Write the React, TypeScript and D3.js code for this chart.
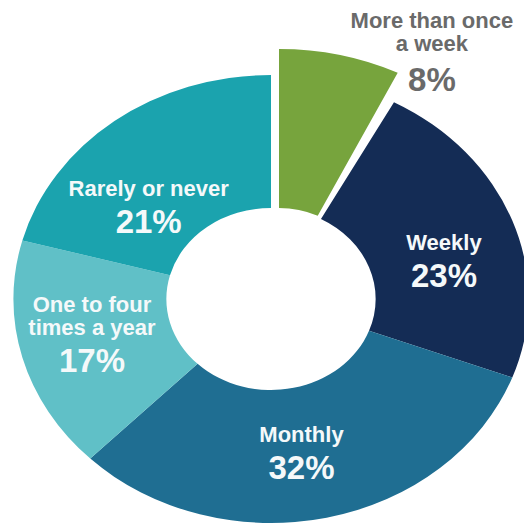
import React, { useEffect, useRef } from "react";
import * as d3 from "d3";

// survey answers, clockwise from 12 o'clock
const categories = ["More than once a week", "Weekly", "Monthly", "One to four times a year", "Rarely or never"];
const values = [8, 23, 32, 17, 21];
const labelLines = [
  ["More than once", "a week"],
  ["Weekly"],
  ["Monthly"],
  ["One to four", "times a year"],
  ["Rarely or never"],
];
const colors = ["#77a43d", "#142c55", "#1f6e92", "#60c0c7", "#1ba3ae"];

const WIDTH = 524;
const HEIGHT = 527;

const App: React.FC = () => {
  const svgRef = useRef<SVGSVGElement | null>(null);

  useEffect(() => {
    if (!svgRef.current) return;
    const svg = d3.select(svgRef.current);
    svg.selectAll("*").remove();

    const cx = 271;
    const cy = 299;
    const sx = 1.15; // the original is stretched sideways
    const inner = 91;
    const outer = 224;

    const data = categories.map((c, i) => ({ name: c, value: values[i], lines: labelLines[i], color: colors[i] }));

    const pie = d3.pie<typeof data[0]>().sort(null).value((d) => d.value);
    const arcs = pie(data);

    const arc = d3.arc<d3.PieArcDatum<typeof data[0]>>().innerRadius(inner).outerRadius(outer);
    // pulled-out slice
    const explodedArc = d3.arc<d3.PieArcDatum<typeof data[0]>>()
      .innerRadius(77)
      .outerRadius(236)
      .startAngle((d) => d.startAngle)
      .endAngle((d) => d.endAngle - 0.045);
    const labelArc = d3.arc<d3.PieArcDatum<typeof data[0]>>().innerRadius(155).outerRadius(155);

    const g = svg.append("g").attr("transform", `translate(${cx},${cy})`);

    g.selectAll("path")
      .data(arcs)
      .enter()
      .append("path")
      .attr("d", (d, i) => (i === 0 ? explodedArc(d) : arc(d)) as string)
      .attr("transform", (d, i) => (i === 0 ? `translate(8,-14) scale(${sx},1)` : `scale(${sx},1)`))
      .attr("fill", (d) => d.data.color);

    // label nudges from the arc centroid to the first baseline
    const nudge: Record<string, [number, number]> = {
      "More than once a week": [117, -121],
      "Weekly": [6, 5],
      "Monthly": [-8, -8],
      "One to four times a year": [-7, -28],
      "Rarely or never": [-14, 20],
    };

    arcs.forEach((d, i) => {
      const [lx, ly] = labelArc.centroid(d);
      const [nx, ny] = nudge[d.data.name];
      const x = lx * sx + nx;
      const y = ly + ny;
      const fill = i === 0 ? "#6a6a6a" : "#f5f9fa";
      const t = g.append("text")
        .attr("x", x)
        .attr("y", y)
        .attr("text-anchor", "middle")
        .style("font-family", "'Liberation Sans', Arial, sans-serif")
        .style("font-weight", "bold")
        .attr("fill", fill);
      d.data.lines.forEach((line, j) => {
        t.append("tspan")
          .attr("x", x)
          .attr("dy", j === 0 ? 0 : 23)
          .style("font-size", "22px")
          .text(line);
      });
      t.append("tspan")
        .attr("x", x)
        .attr("dy", i === 0 ? 40 : 37)
        .style("font-size", "33px")
        .text(`${d.data.value}%`);
    });
  }, []);

  return (
    <svg
      ref={svgRef}
      width={WIDTH}
      height={HEIGHT}
      style={{ position: "absolute", left: 0, top: 0, background: "#fff" }}
    />
  );
};

export default App;
